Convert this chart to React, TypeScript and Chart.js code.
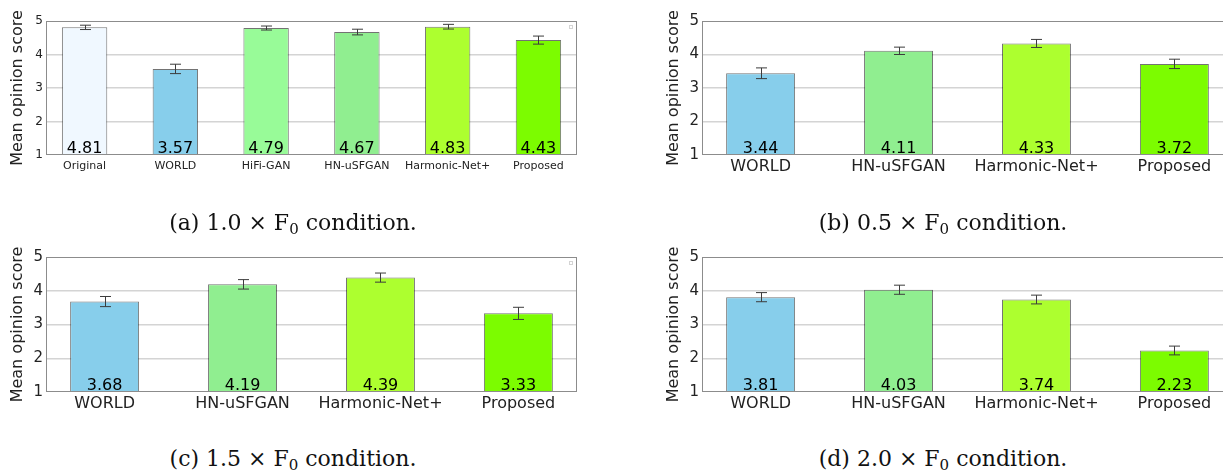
import React, { useEffect, useRef } from 'react';
import { Chart, registerables } from 'chart.js';

Chart.register(...registerables);

// ---------- data ----------
const categoriesA = ['Original', 'WORLD', 'HiFi-GAN', 'HN-uSFGAN', 'Harmonic-Net+', 'Proposed'];
const colorsA = ['#f0f8ff', '#87ceeb', '#98fb98', '#90ee90', '#adff2f', '#7cfc00'];
const mosA = [4.81, 3.57, 4.79, 4.67, 4.83, 4.43];
const ciA = [0.065, 0.14, 0.06, 0.085, 0.07, 0.12];

const categoriesBCD = ['WORLD', 'HN-uSFGAN', 'Harmonic-Net+', 'Proposed'];
const colorsBCD = ['#87ceeb', '#90ee90', '#adff2f', '#7cfc00'];

const mosB = [3.44, 4.11, 4.33, 3.72];
const ciB = [0.16, 0.11, 0.12, 0.14];

const mosC = [3.68, 4.19, 4.39, 3.33];
const ciC = [0.15, 0.14, 0.135, 0.18];

const mosD = [3.81, 4.03, 3.74, 2.23];
const ciD = [0.135, 0.135, 0.13, 0.13];

const yTicks = [1, 2, 3, 4, 5];
const yTitle = 'Mean opinion score';

const captionA = ['(a) 1.0 × F', '0', ' condition.'];
const captionB = ['(b) 0.5 × F', '0', ' condition.'];
const captionC = ['(c) 1.5 × F', '0', ' condition.'];
const captionD = ['(d) 2.0 × F', '0', ' condition.'];

const FONT = '"DejaVu Sans", sans-serif';

type PanelProps = {
  labels: string[];
  values: number[];
  errors: number[];
  colors: string[];
  left: number;
  top: number;
  xAxisH: number;
  xFont: number;
  yFont: number;
  xPad: number;
};

function Panel({ labels, values, errors, colors, left, top, xAxisH, xFont, yFont, xPad }: PanelProps) {
  const ref = useRef<HTMLCanvasElement>(null);

  useEffect(() => {
    if (!ref.current) return;
    const extras = {
      id: 'mosExtras',
      afterDatasetsDraw(chart: any) {
        const { ctx, chartArea: a, scales } = chart;
        const xs = scales.x;
        const ys = scales.y;
        ctx.save();
        // error bars
        ctx.strokeStyle = '#3c3c3c';
        ctx.lineWidth = 1;
        values.forEach((v, i) => {
          const px = Math.round(xs.getPixelForValue(i)) + 0.5;
          const y1 = ys.getPixelForValue(v + errors[i]);
          const y2 = ys.getPixelForValue(v - errors[i]);
          ctx.beginPath();
          ctx.moveTo(px, y1);
          ctx.lineTo(px, y2);
          ctx.moveTo(px - 5.5, y1);
          ctx.lineTo(px + 5.5, y1);
          ctx.moveTo(px - 5.5, y2);
          ctx.lineTo(px + 5.5, y2);
          ctx.stroke();
        });
        // value labels
        ctx.fillStyle = '#000';
        ctx.font = `16px ${FONT}`;
        ctx.textAlign = 'center';
        ctx.textBaseline = 'alphabetic';
        values.forEach((v, i) => {
          ctx.fillText(v.toFixed(2), xs.getPixelForValue(i), a.bottom - 2.5);
        });
        // frame
        ctx.strokeStyle = '#8c8c8c';
        ctx.lineWidth = 1;
        ctx.strokeRect(a.left + 0.5, a.top + 0.5, a.right - a.left - 1, a.bottom - a.top - 1);
        // empty legend box
        ctx.strokeStyle = '#d4d4d4';
        ctx.strokeRect(a.right - 7.5, a.top + 4.5, 3, 3);
        ctx.restore();
      },
    };

    const chart = new Chart(ref.current, {
      type: 'bar',
      data: {
        datasets: [
          {
            data: values.map((v, i) => ({ x: i, y: v })),
            backgroundColor: colors,
            borderColor: 'rgba(0,0,0,0.55)',
            borderWidth: 1,
            borderSkipped: 'start',
            categoryPercentage: 1,
            barPercentage: 0.5,
          } as any,
        ],
      },
      options: {
        responsive: false,
        animation: false,
        events: [],
        layout: { padding: { top: 21, right: 23, left: 0, bottom: 0 } },
        plugins: { legend: { display: false }, tooltip: { enabled: false } },
        scales: {
          x: {
            type: 'linear',
            offset: false,
            min: -0.425,
            max: labels.length - 1 + 0.425,
            afterBuildTicks: (s: any) => {
              s.ticks = labels.map((_, i) => ({ value: i }));
            },
            afterFit: (s: any) => {
              s.height = xAxisH;
            },
            ticks: {
              callback: (v: any) => labels[v] ?? '',
              font: { family: FONT, size: xFont },
              color: '#222',
              padding: xPad,
              maxRotation: 0,
              autoSkip: false,
            },
            grid: { display: false, drawTicks: false },
            border: { display: false },
          },
          y: {
            min: 1,
            max: 5,
            afterBuildTicks: (s: any) => {
              s.ticks = yTicks.map((v) => ({ value: v }));
            },
            afterFit: (s: any) => {
              s.width = 46;
            },
            ticks: {
              font: { family: FONT, size: yFont },
              color: '#222',
              padding: 3,
            },
            grid: {
              color: (c: any) =>
                c.tick && c.tick.value > 1 && c.tick.value < 5 ? '#d4d4d4' : 'rgba(0,0,0,0)',
              lineWidth: 1.5,
              drawTicks: false,
            },
            border: { display: false },
            title: {
              display: true,
              text: yTitle,
              font: { family: FONT, size: 16 },
              color: '#222',
              padding: { top: 8, bottom: 0 },
            },
          },
        },
      } as any,
      plugins: [extras],
    });
    return () => chart.destroy();
  }, []);

  return (
    <canvas
      ref={ref}
      width={600}
      height={200}
      style={{ position: 'absolute', left, top, width: 600, height: 200 }}
    />
  );
}

function Caption({ parts, center, top }: { parts: string[]; center: number; top: number }) {
  return (
    <div
      style={{
        position: 'absolute',
        left: center - 200,
        top,
        width: 400,
        textAlign: 'center',
        fontFamily: '"DejaVu Serif", serif',
        fontSize: 22,
        lineHeight: '26px',
        color: '#111',
        whiteSpace: 'nowrap',
      }}
    >
      {parts[0]}
      <span style={{ fontSize: 15, position: 'relative', top: 4 }}>{parts[1]}</span>
      {parts[2]}
    </div>
  );
}

export default function App() {
  return (
    <div
      style={{
        position: 'absolute',
        left: 0,
        top: 0,
        width: 1223,
        height: 470,
        overflow: 'hidden',
        background: '#fff',
      }}
    >
      <Panel labels={categoriesA} values={mosA} errors={ciA} colors={colorsA} left={0} top={0} xAxisH={45} xFont={11} yFont={12} xPad={5} />
      <Panel labels={categoriesBCD} values={mosB} errors={ciB} colors={colorsBCD} left={656} top={0} xAxisH={45} xFont={16} yFont={15} xPad={2} />
      <Panel labels={categoriesBCD} values={mosC} errors={ciC} colors={colorsBCD} left={0} top={236} xAxisH={44} xFont={16} yFont={15} xPad={2} />
      <Panel labels={categoriesBCD} values={mosD} errors={ciD} colors={colorsBCD} left={656} top={236} xAxisH={44} xFont={16} yFont={15} xPad={2} />
      <Caption parts={captionA} center={293} top={210} />
      <Caption parts={captionB} center={943} top={210} />
      <Caption parts={captionC} center={293} top={446} />
      <Caption parts={captionD} center={943} top={446} />
    </div>
  );
}
